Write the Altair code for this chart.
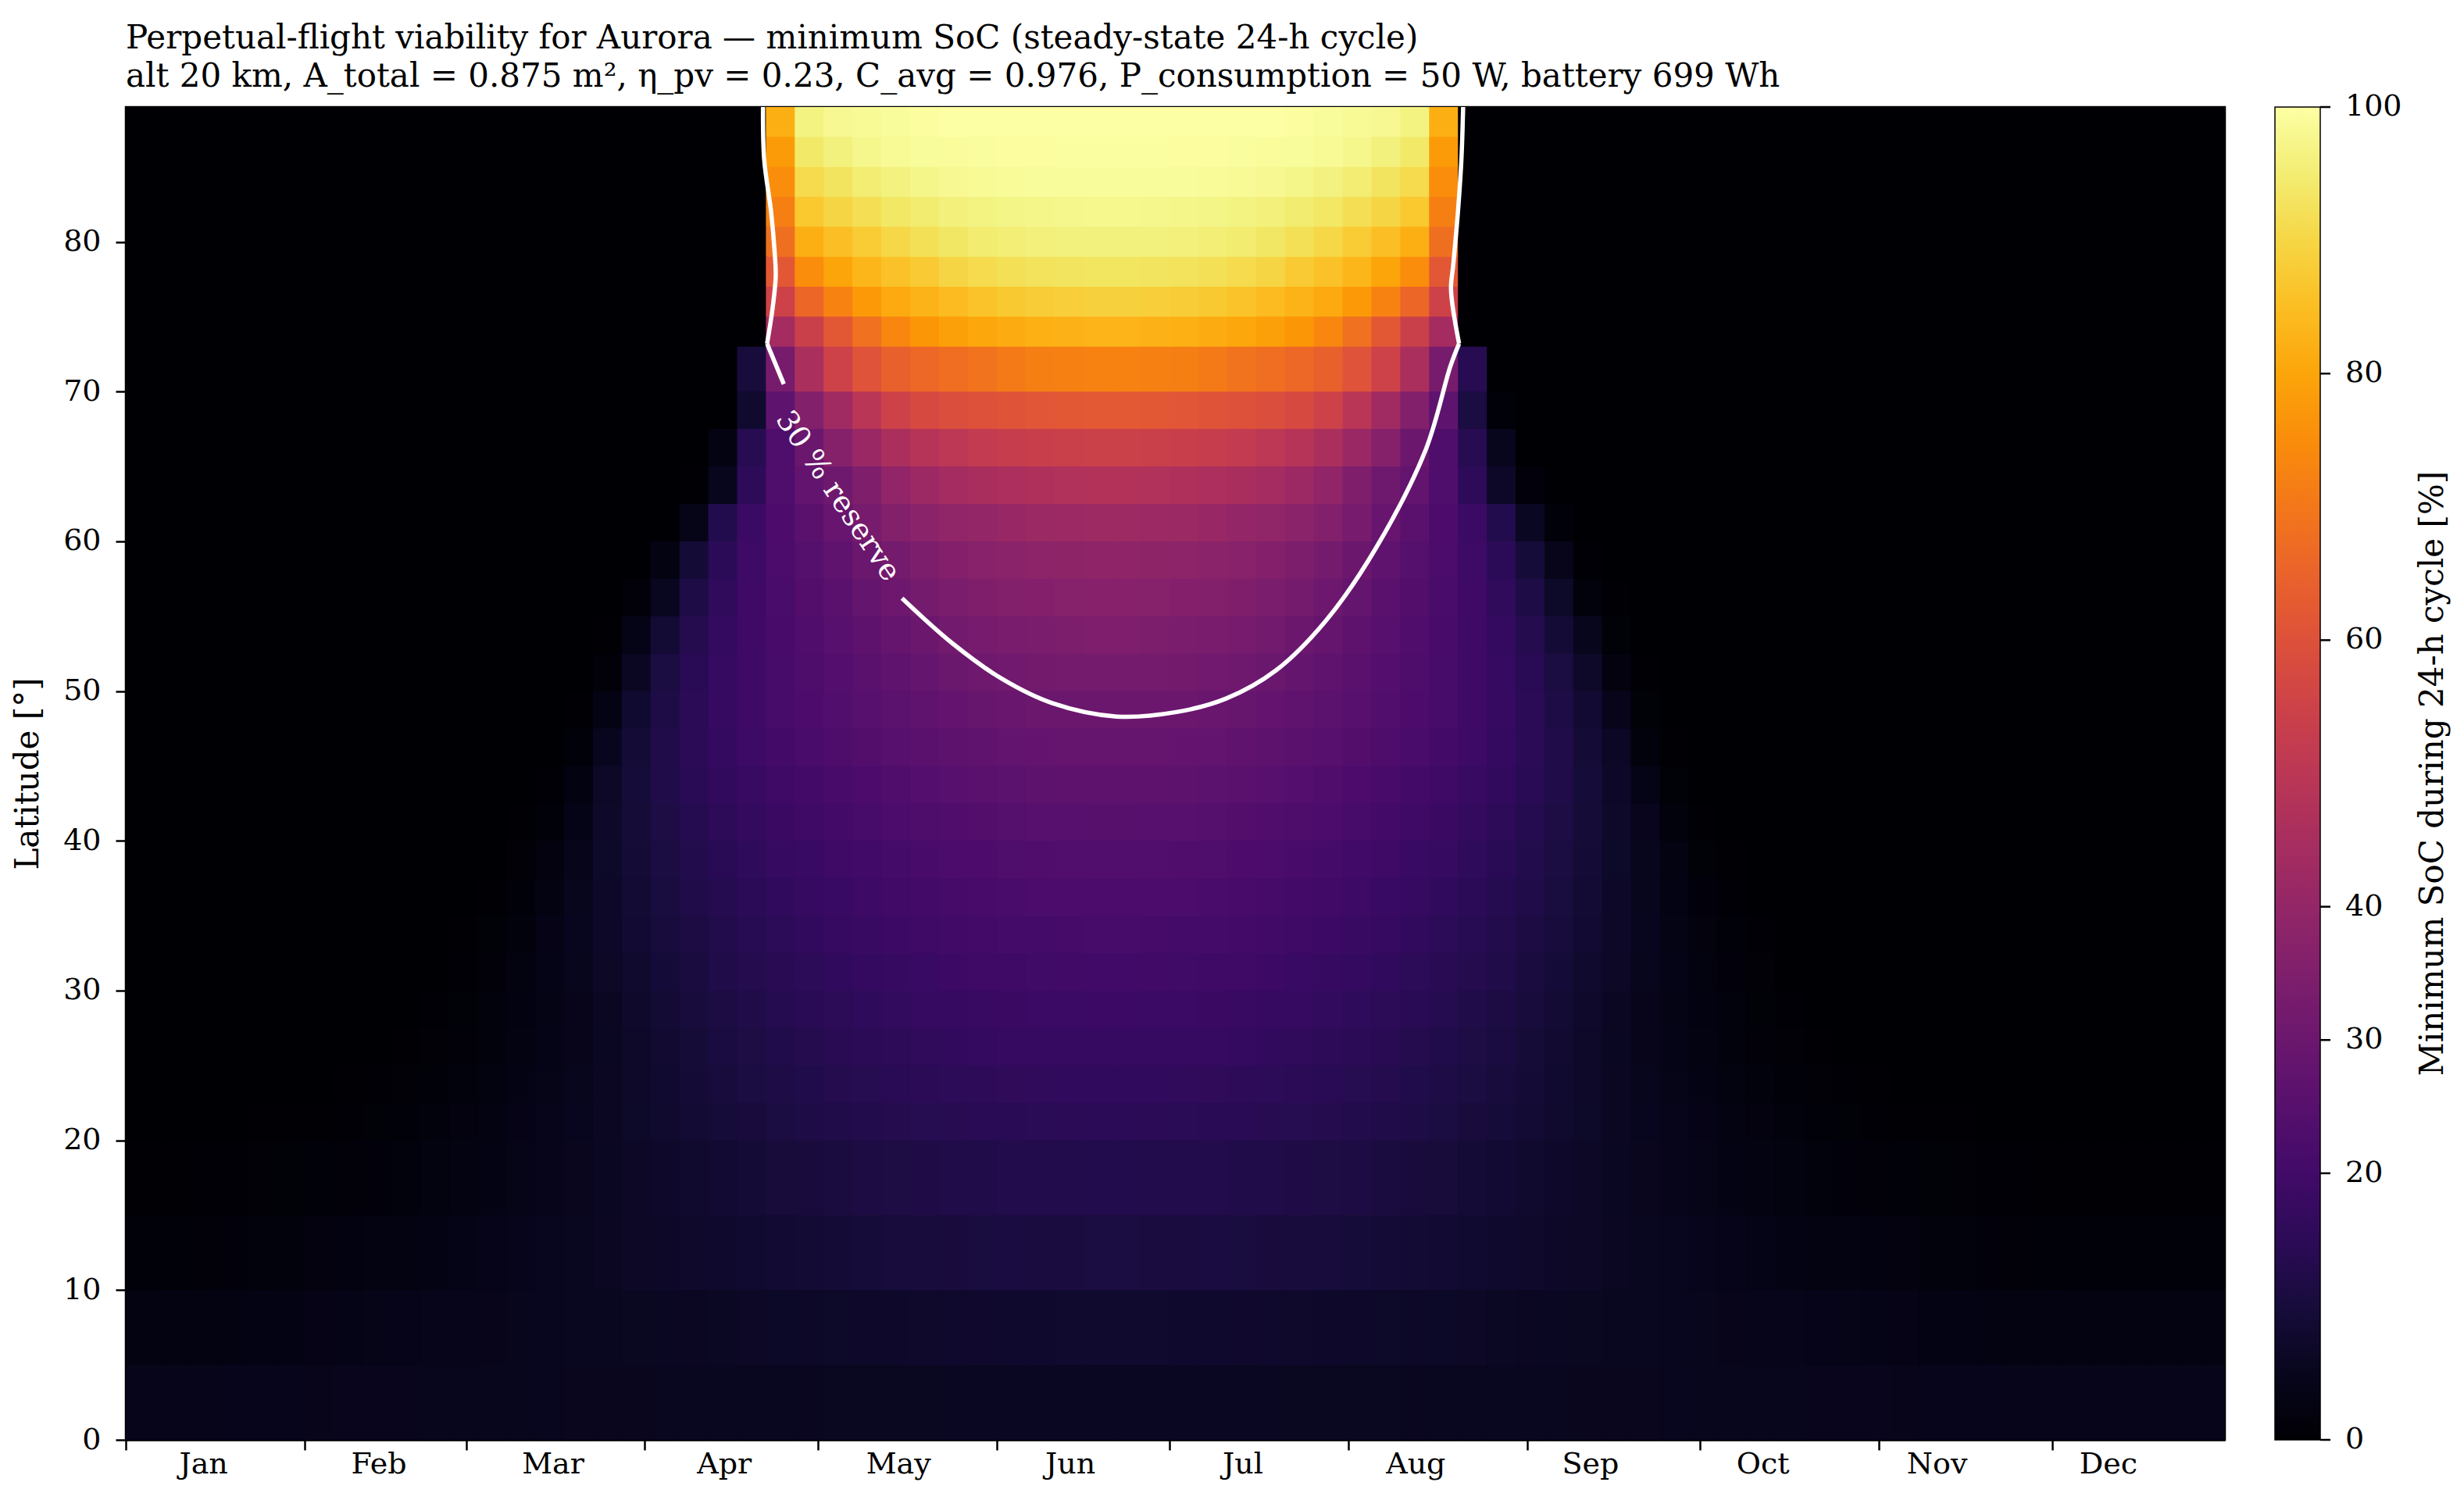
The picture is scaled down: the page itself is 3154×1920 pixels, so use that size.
import altair as alt
import pandas as pd

# ---------------- data ----------------
# day-of-year bin edges (5-day bins, split at the solstice) and latitude bin edges
DAY_EDGES = [1, 7, 12, 17, 22, 27, 32, 37, 42, 47, 52, 57, 62, 67, 72, 77, 82, 87, 92, 97,
             102, 107, 112, 117, 122, 127, 132, 137, 142, 147, 152, 157, 162, 167, 172,
             177, 182, 187, 192, 197, 202, 207, 212, 217, 222, 227, 232, 237, 242, 247,
             252, 257, 262, 267, 272, 277, 282, 287, 292, 297, 302, 307, 312, 317, 322,
             327, 332, 337, 342, 347, 352, 357, 362, 365]
LAT_EDGES = [0, 5, 10, 15, 20, 22.5, 25, 27.5, 30, 32.5, 35, 37.5, 40, 42.5, 45, 47.5, 50,
             52.5, 55, 57.5, 60, 62.5, 65, 67.5, 70, 73, 75, 77, 79, 81, 83, 85, 87, 89]

# minimum SoC [%] per latitude band (bottom to top).  Each entry: (index of the first
# day bin listed, SoC values read for the following day bins); unlisted bins are 0 (black).
SOC_00_05 = (0, [4.5, 4.55, 4.6, 4.65, 4.7, 4.75, 4.8, 4.85, 4.9, 4.95, 5.0, 5.05, 5.1, 5.15, 5.2, 5.25, 5.3,
                 5.35, 5.4, 5.45, 5.5, 5.55, 5.6, 5.65, 5.7, 5.75, 5.8, 5.85, 5.9, 5.9, 5.95, 6.0, 6.0, 6.0,
                 6.0, 6.0, 6.0, 5.95, 5.9, 5.9, 5.85, 5.8, 5.75, 5.7, 5.65, 5.6, 5.55, 5.5, 5.45, 5.4, 5.35,
                 5.3, 5.25, 5.2, 5.15, 5.1, 5.05, 5.0, 4.95, 4.9, 4.85, 4.8, 4.75, 4.7, 4.65, 4.6, 4.55, 4.5,
                 4.5, 4.5, 4.5, 4.5, 4.5])
SOC_05_10 = (0, [2.9, 3.0, 3.1, 3.2, 3.4, 3.5, 3.6, 3.8, 4.0, 4.2, 4.4, 4.6, 4.8, 5.0, 5.2, 5.4, 5.6,
                 5.8, 6.0, 6.2, 6.4, 6.6, 6.8, 7.0, 7.1, 7.3, 7.4, 7.6, 7.7, 7.8, 7.9, 7.9, 8.0, 8.0,
                 8.0, 8.0, 7.9, 7.9, 7.8, 7.7, 7.6, 7.4, 7.3, 7.1, 7.0, 6.8, 6.6, 6.4, 6.2, 6.0, 5.8,
                 5.6, 5.4, 5.2, 5.0, 4.8, 4.6, 4.4, 4.2, 4.0, 3.8, 3.6, 3.5, 3.4, 3.2, 3.1, 3.0, 2.9,
                 2.9, 2.8, 2.8, 2.8, 2.9])
SOC_10_15 = (0, [1.1, 1.2, 1.4, 1.6, 1.8, 2.0, 2.3, 2.6, 2.9, 3.2, 3.5, 3.9, 4.3, 4.7, 5.2, 5.6, 6.1,
                 6.6, 7.0, 7.5, 7.9, 8.3, 8.7, 9.1, 9.4, 9.7, 10.0, 10.2, 10.4, 10.6, 10.8, 10.9, 10.9, 11.0,
                 11.0, 10.9, 10.9, 10.8, 10.6, 10.4, 10.2, 10.0, 9.7, 9.4, 9.1, 8.7, 8.3, 7.9, 7.5, 7.0, 6.6,
                 6.1, 5.6, 5.2, 4.7, 4.3, 3.9, 3.5, 3.2, 2.9, 2.6, 2.3, 2.0, 1.8, 1.6, 1.4, 1.2, 1.1,
                 1.0, 1.0, 1.0, 1.0, 1.0])
SOC_15_20 = (0, [0.3, 0.3, 0.4, 0.5, 0.6, 0.8, 1.0, 1.3, 1.6, 2.0, 2.4, 2.9, 3.4, 4.0, 4.6, 5.3, 6.0,
                 6.7, 7.4, 8.1, 8.7, 9.3, 9.9, 10.4, 10.9, 11.3, 11.7, 12.0, 12.3, 12.5, 12.7, 12.8, 12.9, 13.0,
                 13.0, 12.9, 12.8, 12.7, 12.5, 12.3, 12.0, 11.7, 11.3, 10.9, 10.4, 9.9, 9.3, 8.7, 8.1, 7.4, 6.7,
                 6.0, 5.3, 4.6, 4.0, 3.4, 2.9, 2.4, 2.0, 1.6, 1.3, 1.0, 0.8, 0.6, 0.5, 0.4, 0.3, 0.3,
                 0.2, 0.2, 0.2, 0.2, 0.2])
SOC_20_225 = (0, [0.1, 0.1, 0.1, 0.1, 0.15, 0.2, 0.3, 0.5, 0.8, 1.2, 1.7, 2.2, 2.9, 3.6, 4.4, 5.2, 6.2,
                  7.1, 8.0, 8.9, 9.7, 10.4, 11.1, 11.8, 12.3, 12.8, 13.3, 13.7, 14.0, 14.3, 14.5, 14.7, 14.8, 14.9,
                  14.9, 14.8, 14.7, 14.5, 14.3, 14.0, 13.7, 13.3, 12.8, 12.3, 11.8, 11.1, 10.4, 9.7, 8.9, 8.0, 7.1,
                  6.2, 5.2, 4.4, 3.6, 2.9, 2.2, 1.7, 1.2, 0.8, 0.5, 0.3, 0.2, 0.15, 0.1, 0.1, 0.1, 0.1])
SOC_225_25 = (6, [0.1, 0.2, 0.4, 0.7, 1.2, 1.8, 2.5, 3.3, 4.1, 5.1, 6.1, 7.2, 8.3, 9.3, 10.3, 11.1, 11.9,
                  12.6, 13.3, 13.8, 14.3, 14.8, 15.2, 15.5, 15.7, 15.9, 16.0, 16.1,
                  16.1, 16.0, 15.9, 15.7, 15.5, 15.2, 14.8, 14.3, 13.8, 13.3, 12.6, 11.9, 11.1, 10.3, 9.3,
                  8.3, 7.2, 6.1, 5.1, 4.1, 3.3, 2.5, 1.8, 1.2, 0.7, 0.4, 0.2, 0.1])
SOC_25_275 = (8, [0.1, 0.3, 0.7, 1.3, 2.0, 2.8, 3.8, 4.8, 6.0, 7.2, 8.4, 9.6, 10.8, 11.7, 12.6, 13.4, 14.2,
                  14.8, 15.4, 15.9, 16.3, 16.7, 17.0, 17.2, 17.3, 17.4,
                  17.4, 17.3, 17.2, 17.0, 16.7, 16.3, 15.9, 15.4, 14.8, 14.2, 13.4, 12.6, 11.7, 10.8, 9.6,
                  8.4, 7.2, 6.0, 4.8, 3.8, 2.8, 2.0, 1.3, 0.7, 0.3, 0.1])
SOC_275_30 = (9, [0.1, 0.4, 0.9, 1.7, 2.6, 3.7, 4.8, 6.1, 7.5, 8.8, 10.2, 11.4, 12.4, 13.5, 14.3, 15.1,
                  15.8, 16.5, 17.0, 17.5, 17.9, 18.2, 18.4, 18.5, 18.6,
                  18.6, 18.5, 18.4, 18.2, 17.9, 17.5, 17.0, 16.5, 15.8, 15.1, 14.3, 13.5, 12.4, 11.4, 10.2,
                  8.8, 7.5, 6.1, 4.8, 3.7, 2.6, 1.7, 0.9, 0.4, 0.1])
SOC_30_325 = (10, [0.1, 0.5, 1.4, 2.5, 3.8, 5.1, 6.6, 8.0, 9.5, 10.9, 12.1, 13.3, 14.4, 15.2, 16.1, 16.9,
                   17.6, 18.1, 18.6, 19.0, 19.4, 19.6, 19.8, 19.9,
                   19.9, 19.8, 19.6, 19.4, 19.0, 18.6, 18.1, 17.6, 16.9, 16.1, 15.2, 14.4, 13.3, 12.1, 10.9,
                   9.5, 8.0, 6.6, 5.1, 3.8, 2.5, 1.6, 0.65, 0.1])
SOC_325_35 = (11, [0.2, 0.9, 2.0, 3.6, 5.2, 6.9, 8.5, 10.1, 11.5, 12.9, 14.1, 15.2, 16.2, 17.1, 17.9, 18.6,
                   19.3, 19.8, 20.2, 20.6, 20.8, 21.0, 21.1,
                   21.1, 21.0, 20.8, 20.6, 20.2, 19.8, 19.3, 18.6, 17.9, 17.1, 16.2, 15.2, 14.1, 12.9, 11.5,
                   10.1, 8.5, 6.9, 5.2, 3.7, 2.1, 1.2, 0.4])
SOC_35_375 = (11, [0.1, 0.3, 1.2, 3.1, 5.1, 7.0, 8.8, 10.6, 12.2, 13.6, 14.9, 16.1, 17.1, 18.0, 18.9, 19.7,
                   20.4, 20.9, 21.4, 21.8, 22.1, 22.3, 22.4,
                   22.4, 22.3, 22.1, 21.8, 21.4, 20.9, 20.4, 19.7, 18.9, 18.0, 17.1, 16.1, 14.9, 13.6, 12.2,
                   10.6, 8.8, 7.0, 5.1, 3.5, 1.5, 0.5, 0.1])
SOC_375_40 = (13, [0.6, 2.2, 4.6, 7.1, 9.2, 11.1, 12.9, 14.5, 15.8, 17.1, 18.1, 19.1, 20.0, 20.8, 21.6,
                   22.2, 22.7, 23.1, 23.5, 23.7, 23.8,
                   23.8, 23.7, 23.5, 23.1, 22.7, 22.2, 21.6, 20.8, 20.0, 19.1, 18.1, 17.1, 15.8, 14.5, 12.9,
                   11.1, 9.2, 7.1, 5.0, 2.9, 0.9, 0.15])
SOC_40_425 = (13, [0.2, 1.1, 3.9, 7.2, 9.6, 11.7, 13.6, 15.4, 16.8, 18.2, 19.2, 20.2, 21.2, 22.1, 22.9,
                   23.5, 24.1, 24.6, 25.0, 25.2, 25.3,
                   25.3, 25.2, 25.0, 24.6, 24.1, 23.5, 22.9, 22.1, 21.2, 20.2, 19.2, 18.2, 16.8, 15.4, 13.6,
                   11.7, 9.6, 7.2, 4.9, 1.8, 0.3])
SOC_425_45 = (14, [0.4, 2.7, 6.6, 9.7, 12.1, 14.3, 16.2, 17.8, 19.3, 20.4, 21.5, 22.5, 23.5, 24.3, 25.0,
                   25.7, 26.2, 26.6, 26.8, 26.9,
                   26.9, 26.8, 26.6, 26.2, 25.7, 25.0, 24.3, 23.5, 22.5, 21.5, 20.4, 19.3, 17.8, 16.2, 14.3,
                   12.1, 9.7, 7.0, 3.9, 0.9])
SOC_45_475 = (14, [0.1, 1.1, 5.2, 9.4, 12.2, 14.8, 16.9, 18.8, 20.4, 21.7, 22.8, 24.0, 25.0, 25.9, 26.7,
                   27.4, 27.9, 28.3, 28.5, 28.6,
                   28.6, 28.5, 28.3, 27.9, 27.4, 26.7, 25.9, 25.0, 24.0, 22.8, 21.7, 20.4, 18.8, 16.9, 14.8,
                   12.2, 9.4, 6.3, 2.0, 0.3])
SOC_475_50 = (15, [0.2, 3.5, 8.2, 11.9, 14.8, 17.2, 19.3, 21.1, 22.5, 23.8, 25.0, 26.2, 27.3, 28.3, 29.1,
                   29.6, 30.0, 30.2, 30.3,
                   30.3, 30.2, 30.0, 29.6, 29.1, 28.3, 27.3, 26.2, 25.0, 23.8, 22.5, 21.1, 19.3, 17.2, 14.8,
                   11.9, 8.5, 4.8, 0.8])
SOC_50_525 = (15, [0.1, 1.4, 6.1, 11.0, 14.3, 17.1, 19.3, 21.2, 22.8, 24.3, 25.7, 27.1, 28.4, 29.8, 30.8,
                   31.6, 32.1, 32.4, 32.6,
                   32.6, 32.4, 32.1, 31.6, 30.8, 29.8, 28.4, 27.1, 25.7, 24.3, 22.8, 21.2, 19.3, 17.1, 14.3,
                   11.0, 7.2, 2.3, 0.3])
SOC_525_55 = (16, [0.2, 3.8, 8.9, 13.3, 16.6, 19.2, 21.5, 23.3, 25.0, 26.8, 28.5, 30.1, 31.8, 32.8, 33.6,
                   34.1, 34.5, 34.7,
                   34.7, 34.5, 34.1, 33.6, 32.8, 31.8, 30.1, 28.5, 26.8, 25.0, 23.3, 21.5, 19.2, 16.6, 13.3,
                   9.4, 5.0, 0.8])
SOC_55_575 = (16, [0.1, 1.3, 5.6, 11.8, 15.9, 19.1, 21.8, 24.0, 26.0, 28.4, 30.5, 32.4, 34.1, 35.1, 35.7,
                   36.2, 36.6, 36.9,
                   36.9, 36.6, 36.2, 35.7, 35.1, 34.1, 32.4, 30.5, 28.4, 26.0, 24.0, 21.8, 19.1, 15.9, 11.8,
                   7.1, 2.0, 0.3])
SOC_575_60 = (18, [3.0, 9.3, 14.9, 18.9, 22.1, 24.7, 27.1, 30.1, 32.6, 34.6, 36.3, 37.2, 37.9, 38.4, 38.8, 39.1,
                   39.1, 38.8, 38.4, 37.9, 37.2, 36.3, 34.6, 32.6, 30.1, 27.1, 24.7, 22.1, 18.9, 14.9, 9.8,
                   4.8, 0.4])
SOC_60_625 = (19, [4.0, 13.0, 18.5, 22.5, 26.0, 29.0, 32.8, 35.8, 37.8, 39.2, 40.0, 41.2, 41.8, 42.2, 42.5,
                   42.5, 42.2, 41.8, 41.2, 40.0, 39.2, 37.8, 35.8, 32.8, 29.0, 26.0, 22.5, 18.5, 13.0, 6.0, 1.0])
SOC_625_65 = (19, [0.3, 5.0, 15.5, 23.0, 28.0, 31.0, 35.0, 39.5, 42.3, 44.0, 45.3, 46.3, 47.0, 47.5, 47.8,
                   47.8, 47.5, 47.0, 46.3, 45.3, 44.0, 42.3, 39.5, 35.0, 31.0, 28.0, 23.0, 15.5, 7.0, 1.5])
SOC_65_675 = (20, [3.0, 14.0, 23.0, 30.0, 36.5, 41.5, 46.0, 48.5, 50.3, 52.0, 53.0, 53.6, 54.2, 54.5,
                   54.5, 54.2, 53.6, 53.0, 52.0, 50.3, 48.5, 46.0, 41.5, 36.5, 30.0, 23.0, 14.0, 5.0])
SOC_675_70 = (21, [8.0, 27.0, 36.0, 43.0, 49.5, 55.0, 57.5, 59.0, 60.0, 60.8, 61.5, 62.0, 62.3,
                   62.3, 62.0, 61.5, 60.8, 60.0, 59.0, 57.5, 55.0, 49.5, 43.0, 36.0, 27.0, 11.0, 1.0])
SOC_70_73 = (21, [10.0, 33.0, 46.0, 55.0, 60.5, 64.5, 66.5, 67.8, 69.1, 70.8, 71.8, 72.3, 72.6,
                  72.6, 72.3, 71.8, 70.8, 69.1, 67.8, 66.5, 64.5, 60.5, 55.0, 46.0, 33.0, 14.0])
SOC_73_75 = (22, [44.0, 54.0, 62.0, 68.5, 73.5, 76.8, 79.0, 80.5, 81.5, 82.2, 82.8, 83.1,
                  83.1, 82.8, 82.2, 81.5, 80.5, 79.0, 76.8, 73.5, 68.5, 62.0, 54.0, 44.0])
SOC_75_77 = (22, [55.0, 66.0, 72.5, 77.5, 81.0, 82.9, 84.6, 86.0, 87.2, 88.0, 88.6, 88.9,
                  88.9, 88.6, 88.0, 87.2, 86.0, 84.6, 82.9, 81.0, 77.5, 72.5, 66.0, 55.0])
SOC_77_79 = (22, [62.0, 75.0, 80.0, 83.5, 85.9, 87.6, 89.8, 91.0, 92.0, 92.6, 93.0, 93.3,
                  93.3, 93.0, 92.6, 92.0, 91.0, 89.8, 87.6, 85.9, 83.5, 80.0, 75.0, 62.0])
SOC_79_81 = (22, [68.0, 82.0, 85.3, 87.8, 90.2, 92.0, 93.6, 94.8, 95.3, 95.8, 96.0, 96.0,
                  96.0, 96.0, 95.8, 95.3, 94.8, 93.6, 92.0, 90.2, 87.8, 85.3, 82.0, 68.0])
SOC_81_83 = (22, [72.0, 87.0, 89.8, 91.8, 93.7, 94.8, 95.8, 96.5, 97.0, 97.3, 97.5, 97.6,
                  97.6, 97.5, 97.3, 97.0, 96.5, 95.8, 94.8, 93.7, 91.8, 89.8, 87.0, 72.0])
SOC_83_85 = (22, [75.0, 91.0, 93.0, 95.0, 96.3, 97.3, 98.0, 98.5, 98.8, 99.0, 99.0, 99.0,
                  99.0, 99.0, 99.0, 98.8, 98.5, 98.0, 97.3, 96.3, 95.0, 93.0, 91.0, 75.0])
SOC_85_87 = (22, [78.0, 94.0, 96.0, 97.5, 98.5, 99.0, 99.2, 99.4, 99.5, 99.5, 99.6, 99.6,
                  99.6, 99.6, 99.5, 99.5, 99.4, 99.2, 99.0, 98.5, 97.5, 96.0, 94.0, 78.0])
SOC_87_89 = (22, [82.0, 96.5, 98.0, 98.5, 99.0, 99.5, 100, 100, 100, 100, 100, 100,
                  100, 100, 100, 100, 100, 100, 99.5, 99.0, 98.5, 98.0, 96.5, 82.0])

SOC_ROWS = [SOC_00_05, SOC_05_10, SOC_10_15, SOC_15_20,
            SOC_20_225, SOC_225_25, SOC_25_275, SOC_275_30, SOC_30_325, SOC_325_35,
            SOC_35_375, SOC_375_40, SOC_40_425, SOC_425_45, SOC_45_475, SOC_475_50,
            SOC_50_525, SOC_525_55, SOC_55_575, SOC_575_60,
            SOC_60_625, SOC_625_65, SOC_65_675, SOC_675_70, SOC_70_73,
            SOC_73_75, SOC_75_77, SOC_77_79, SOC_79_81, SOC_81_83, SOC_83_85, SOC_85_87, SOC_87_89]

# 30 % reserve contour (pieces split at the kinks; gap for the label)
CONTOUR_A1_DAY = [111.5, 111.7, 112.9, 113.5, 113.7, 113.1, 112.2]
CONTOUR_A1_LAT = [89.0, 85.5, 82.0, 79.4, 77.7, 75.4, 73.2]
CONTOUR_A2_DAY = [112.2, 115.1]
CONTOUR_A2_LAT = [73.2, 70.5]
CONTOUR_B1_DAY = [135.6, 144.3, 153.0, 161.6, 172.8, 183.2, 191.8, 200.5, 209.1, 217.7,
                  226.4, 230.7, 232.2]
CONTOUR_B1_LAT = [56.2, 53.2, 50.8, 49.2, 48.3, 48.6, 49.5, 51.4, 54.7, 59.5,
                  66.1, 71.7, 73.2]
CONTOUR_B2_DAY = [232.2, 230.8, 231.2, 232.0, 232.6, 232.9]
CONTOUR_B2_LAT = [73.2, 76.8, 78.5, 82.0, 85.5, 89.0]
CONTOUR_LABEL = "30 % reserve"
CONTOUR_LABEL_DAY = [124.4]
CONTOUR_LABEL_LAT = [63.0]

MONTHS = ["Jan", "Feb", "Mar", "Apr", "May", "Jun", "Jul", "Aug", "Sep", "Oct", "Nov", "Dec"]
MONTH_START = [1, 32, 60, 91, 121, 152, 182, 213, 244, 274, 305, 335]
MONTH_LABEL_DAY = [14.5, 44.9, 75.1, 104.8, 135.0, 164.8, 194.7, 224.7, 255.0, 284.9, 315.1, 344.8]
LAT_TICKS = [0, 10, 20, 30, 40, 50, 60, 70, 80]
CB_TICKS = [0, 20, 30, 40, 60, 80, 100]

TITLE = ["Perpetual-flight viability for Aurora \u2014 minimum SoC (steady-state 24-h cycle)",
         "alt 20 km, A_total = 0.875 m\u00b2, \u03b7_pv = 0.23, C_avg = 0.976, P_consumption = 50 W, battery 699 Wh"]
CB_TITLE = "Minimum SoC during 24-h cycle [%]"

# ---------------- tables ----------------
ncol = len(DAY_EDGES) - 1
if len(SOC_ROWS) != len(LAT_EDGES) - 1:
    raise ValueError("row count mismatch")

cells = []
for r, (start, vals) in enumerate(SOC_ROWS):
    row = [0.0] * ncol
    for k, v in enumerate(vals):
        if start + k < ncol:
            row[start + k] = v
    for c, v in enumerate(row):
        cells.append({"d0": DAY_EDGES[c], "d1": DAY_EDGES[c + 1],
                      "l0": LAT_EDGES[r], "l1": LAT_EDGES[r + 1], "soc": v})
cells = pd.DataFrame(cells)

cont = []
for seg, days, lats in [("a1", CONTOUR_A1_DAY, CONTOUR_A1_LAT), ("a2", CONTOUR_A2_DAY, CONTOUR_A2_LAT),
                        ("b1", CONTOUR_B1_DAY, CONTOUR_B1_LAT), ("b2", CONTOUR_B2_DAY, CONTOUR_B2_LAT)]:
    for i, (d, l) in enumerate(zip(days, lats)):
        cont.append({"seg": seg, "i": i, "day": d, "lat": l})
cont = pd.DataFrame(cont)

lab = pd.DataFrame({"day": CONTOUR_LABEL_DAY, "lat": CONTOUR_LABEL_LAT, "t": [CONTOUR_LABEL]})
cbt = pd.DataFrame({"t": [CB_TITLE]})
mon = pd.DataFrame({"day": MONTH_LABEL_DAY, "m": MONTHS})
cbticks = pd.DataFrame({"v": CB_TICKS})

FONT = "DejaVu Serif"
FS = 38      # tick labels
FT = 42      # titles
W, H = 2687, 1706
CB_X, CB_W = 2751, 58

xscale = alt.Scale(domain=[1, 365], nice=False, zero=False)
yscale = alt.Scale(domain=[0, 89], nice=False, zero=False)
cscale = alt.Scale(scheme="inferno", domain=[0, 100])
cbscale = alt.Scale(domain=[0, 100], nice=False, zero=False)

heat = alt.Chart(cells).mark_rect(clip=True, x2Offset=1, y2Offset=-1).encode(
    x=alt.X("d0:Q", scale=xscale,
            axis=alt.Axis(values=MONTH_START, labels=False, title=None)),
    x2="d1:Q",
    y=alt.Y("l0:Q", scale=yscale,
            axis=alt.Axis(values=LAT_TICKS, title="Latitude [\u00b0]", labelPadding=19,
                          titleX=-126, titleY=853, titleBaseline="middle", titleAngle=270)),
    y2="l1:Q",
    color=alt.Color("soc:Q", scale=cscale,
                    legend=alt.Legend(orient="none", legendX=CB_X, legendY=0,
                                      direction="vertical", gradientLength=H,
                                      gradientThickness=CB_W, gradientStrokeColor="black",
                                      gradientStrokeWidth=1.5, labelOpacity=0,
                                      values=CB_TICKS, title=None, padding=0)),
)

line = alt.Chart(cont).mark_line(color="white", strokeWidth=5.5, clip=True,
                                 interpolate="catmull-rom").encode(
    x="day:Q", y=alt.Y("lat:Q", scale=yscale, axis=None), detail="seg:N", order="i:Q")

label = alt.Chart(lab).mark_text(angle=56, color="white", font=FONT, fontSize=38,
                                 align="center", baseline="middle").encode(
    x="day:Q", y=alt.Y("lat:Q", scale=yscale, axis=None), text="t:N")

months = alt.Chart(mon).mark_text(color="black", font=FONT, fontSize=FS,
                                  align="center", baseline="middle").encode(
    x="day:Q", y=alt.value(H + 32), text="m:N")

cbtick = alt.Chart(cbticks).mark_rule(color="black", strokeWidth=2.5).encode(
    x=alt.value(CB_X + CB_W), x2=alt.value(CB_X + CB_W + 13),
    y=alt.Y("v:Q", scale=cbscale, axis=None))

cblabel = alt.Chart(cbticks).mark_text(color="black", font=FONT, fontSize=FS,
                                       align="left", baseline="middle").encode(
    x=alt.value(CB_X + CB_W + 32),
    y=alt.Y("v:Q", scale=cbscale, axis=None),
    text=alt.Text("v:Q", format="d"))

cbtitle = alt.Chart(cbt).mark_text(angle=270, color="black", font=FONT, fontSize=FT,
                                   align="center", baseline="middle").encode(
    x=alt.value(2953), y=alt.value(H / 2), text="t:N")

chart = alt.layer(heat, line, label, months, cbtick, cblabel, cbtitle).resolve_scale(
    y="independent"
).properties(
    width=W, height=H,
    title=alt.Title(TITLE, anchor="start", frame="group", font=FONT, fontSize=FT,
                    fontWeight="normal", color="black", lineHeight=49,
                    baseline="alphabetic", offset=-35),
    padding={"left": 153, "top": 129, "right": 298, "bottom": 69},
    autosize=alt.AutoSizeParams(type="none"),
).configure_axis(
    labelFont=FONT, labelFontSize=FS, labelColor="black", tickColor="black",
    tickSize=13, tickWidth=2.5, domainColor="black", domainWidth=2.5, grid=False,
    titleFont=FONT, titleFontSize=FT, titleFontWeight="normal", titleColor="black",
).configure_view(stroke="black", strokeWidth=2.5)

chart.save("out.html", embed_options={"renderer": "svg", "actions": False})
